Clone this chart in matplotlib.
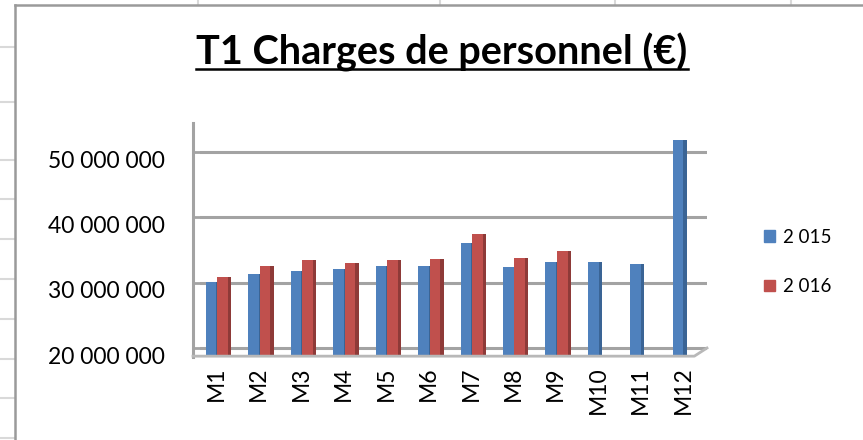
import matplotlib.pyplot as plt
from matplotlib.lines import Line2D
from matplotlib.patches import Patch
from matplotlib.ticker import FuncFormatter
import matplotlib.transforms as mtransforms
import numpy as np

months = ['M1', 'M2', 'M3', 'M4', 'M5', 'M6', 'M7', 'M8', 'M9', 'M10', 'M11', 'M12']
charges_2015 = [30.1e6, 31.4e6, 31.8e6, 32.1e6, 32.5e6, 32.5e6, 36.1e6, 32.4e6, 33.1e6, 33.2e6, 32.9e6, 51.8e6]
charges_2016 = [30.8e6, 32.6e6, 33.5e6, 33.0e6, 33.4e6, 33.6e6, 37.4e6, 33.8e6, 34.8e6]
series_names = ['2 015', '2 016']
yticks = [20e6, 30e6, 40e6, 50e6]

blue, blue_side = '#4f81bd', '#3a6495'
red, red_side = '#c0504d', '#8e3a38'
grid_col = '#a3a3a3'

plt.rcParams['font.family'] = ['Lato', 'DejaVu Sans']

W, H = 863, 440
fig = plt.figure(figsize=(W / 100, H / 100), dpi=100)

# spreadsheet background + chart border
for yy in [47, 102, 160, 199, 239, 279, 319, 359, 398, 438]:
    fig.add_artist(Line2D([0, 15 / W], [1 - yy / H] * 2, color='#d9d9d9', lw=1.5))
for xx in [198, 440, 615, 791]:
    fig.add_artist(Line2D([xx / W] * 2, [1, 1 - 5 / H], color='#d9d9d9', lw=1.5))
fig.add_artist(Line2D([15 / W, 15 / W], [0, 1 - 5 / H], color='#9a9a9a', lw=1.8))
fig.add_artist(Line2D([15 / W, 1], [1 - 5 / H] * 2, color='#9a9a9a', lw=1.8))

ax = fig.add_axes([200 / W, 1 - 355 / H, 507 / W, 232 / H])
px = 10e6 / 65.3  # value per pixel
y0 = 20e6 - 7 * px
ax.set_ylim(y0, 20e6 + 225 * px)
ax.set_xlim(-0.26, 11.68)

x = np.arange(len(months))
w, sw = 0.25, 0.08
v15 = np.array(charges_2015)
v16 = np.array(charges_2016)
x16 = x[:len(v16)] + 0.27

ax.bar(x, v15 - y0, bottom=y0, width=w, color=blue, zorder=3)
ax.bar(x + w / 2 + sw / 2, v15 - y0, bottom=y0, width=sw, color=blue_side, zorder=3)
ax.bar(x16, v16 - y0, bottom=y0, width=w, color=red, zorder=3)
ax.bar(x16 + w / 2 + sw / 2, v16 - y0, bottom=y0, width=sw, color=red_side, zorder=3)

# back wall gridlines
ax.set_yticks(yticks)
ax.yaxis.grid(True, color=grid_col, lw=2.2)
ax.set_axisbelow(True)
for s in ax.spines.values():
    s.set_visible(False)

# left wall and floor (pseudo 3D)
wall_x = -7 / 507
ax.plot([wall_x, wall_x], [-0.01, 1.0], transform=ax.transAxes, color=grid_col, lw=2.2, clip_on=False)
for t in yticks:
    ax.plot([wall_x, 0], [t, t], transform=ax.get_yaxis_transform(), color=grid_col, lw=2, clip_on=False)
ax.plot([wall_x, 0.975, 1.0], [-0.005, -0.005, 7 / 232], transform=ax.transAxes,
        color='#b8b8b8', lw=2, clip_on=False, zorder=4)

ax.yaxis.set_major_formatter(FuncFormatter(lambda v, p: f'{int(round(v)):,}'.replace(',', ' ')))
ax.tick_params(axis='y', length=0, pad=25, labelsize=16.5)
shift = mtransforms.ScaledTranslation(0, -7 / 100, fig.dpi_scale_trans)
for lbl in ax.get_yticklabels():
    lbl.set_transform(lbl.get_transform() + shift)

ax.set_xticks(x + 0.12)
ax.set_xticklabels(months, rotation=90, fontsize=16.5)
ax.tick_params(axis='x', length=0, pad=8)

fig.legend(handles=[Patch(color=blue), Patch(color=red)], labels=series_names,
           loc='center left', bbox_to_anchor=(747 / W, 1 - 262 / H), frameon=False,
           fontsize=13.5, handlelength=0.6, handleheight=0.6, labelspacing=1.72, handletextpad=0.4)

title_y = 1 - 64 / H
title = fig.text(442 / W, title_y, 'T1 Charges de personnel (€)', ha='center', va='baseline',
                 fontsize=28.5, fontweight='bold')
fig.canvas.draw()
bb = title.get_window_extent()
fig.add_artist(Line2D([bb.x0 / W, bb.x1 / W], [title_y - 5 / H] * 2, color='black', lw=1.8))

fig.savefig('out.png', dpi=100)
